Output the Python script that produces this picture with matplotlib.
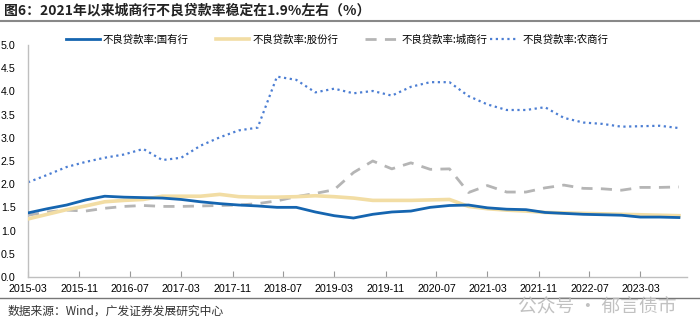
import matplotlib
matplotlib.use("Agg")
import matplotlib.pyplot as plt
import pandas as pd

plt.rcParams['font.family'] = ['Liberation Sans', 'Noto Sans CJK SC', 'DejaVu Sans']
cjk = ['Noto Sans CJK SC', 'DejaVu Sans']

# quarterly NPL ratios (%), 2015Q1 - 2023Q3
quarters = pd.date_range('2015-03-01', '2023-09-01', freq='3MS')
state_owned = [1.38, 1.47, 1.55, 1.66, 1.74, 1.72, 1.71, 1.70, 1.67, 1.62, 1.58, 1.55,
               1.53, 1.50, 1.50, 1.40, 1.32, 1.27, 1.35, 1.40, 1.42, 1.50, 1.54, 1.55,
               1.49, 1.46, 1.45, 1.39, 1.37, 1.35, 1.34, 1.33, 1.29, 1.29, 1.28]
joint_stock = [1.25, 1.35, 1.45, 1.53, 1.62, 1.65, 1.67, 1.74, 1.74, 1.74, 1.78, 1.73,
               1.72, 1.72, 1.73, 1.75, 1.73, 1.70, 1.65, 1.65, 1.65, 1.66, 1.67, 1.52,
               1.47, 1.44, 1.42, 1.39, 1.38, 1.37, 1.36, 1.35, 1.34, 1.33, 1.32]
city = [1.33, 1.40, 1.44, 1.42, 1.48, 1.52, 1.54, 1.52, 1.52, 1.53, 1.54, 1.55,
        1.58, 1.64, 1.73, 1.80, 1.88, 2.25, 2.50, 2.33, 2.46, 2.32, 2.33, 1.82,
        1.97, 1.83, 1.83, 1.92, 1.98, 1.91, 1.90, 1.87, 1.93, 1.93, 1.94]
rural = [2.04, 2.20, 2.37, 2.48, 2.57, 2.64, 2.76, 2.52, 2.57, 2.83, 3.01, 3.16,
         3.22, 4.32, 4.25, 3.98, 4.06, 3.96, 4.01, 3.91, 4.10, 4.20, 4.20, 3.90,
         3.72, 3.60, 3.60, 3.66, 3.43, 3.33, 3.30, 3.24, 3.25, 3.26, 3.21]
labels = ['不良贷款率:国有行', '不良贷款率:股份行', '不良贷款率:城商行', '不良贷款率:农商行']
yticks = [0, 0.5, 1, 1.5, 2, 2.5, 3, 3.5, 4, 4.5, 5]

fig = plt.figure(figsize=(7, 3.34), dpi=100)
ax = fig.add_axes([0.04, 0.171, 0.941, 0.694])

l1, = ax.plot(quarters, state_owned, color='#1565B0', lw=2, label=labels[0], zorder=4)
l2, = ax.plot(quarters, joint_stock, color='#F2DDA4', lw=2.6, label=labels[1], zorder=3)
l3, = ax.plot(quarters, city, color='#B5B5B5', lw=2, ls=(0, (4, 3)), label=labels[2], zorder=2)
l4, = ax.plot(quarters, rural, color='#4C7ED3', lw=1.6, ls=(0, (1, 1.6)), label=labels[3], zorder=2)

ax.set_ylim(0, 5)
ax.set_yticks(yticks)
ax.set_yticklabels([f'{v:.1f}' for v in yticks])
ax.set_xlim(pd.Timestamp('2015-03-01'), pd.Timestamp('2023-10-08'))
xt = pd.date_range('2015-03-01', '2023-03-01', freq='8MS')
ax.set_xticks(xt)
ax.set_xticklabels([d.strftime('%Y-%m') for d in xt])
ax.tick_params(axis='x', direction='in', length=4, color='#999999', labelsize=7.7, pad=5)
ax.tick_params(axis='y', length=0, labelsize=7.7, pad=9)
for s in ['top', 'right']:
    ax.spines[s].set_visible(False)
for s in ['left', 'bottom']:
    ax.spines[s].set_color('#BFBFBF')
    ax.spines[s].set_linewidth(1)

# legend: first three entries, then the rural one squeezed in closer like the source
leg1 = ax.legend(handles=[l1, l2, l3], loc='upper left', bbox_to_anchor=(0.044, 1.085), ncol=3,
                 frameon=False, handlelength=3.2, handletextpad=0.3, columnspacing=2.6,
                 prop={'family': cjk, 'size': 7.5})
ax.add_artist(leg1)
ax.legend(handles=[l4], loc='upper left', bbox_to_anchor=(0.687, 1.085), frameon=False,
          handlelength=2.7, handletextpad=0.4, prop={'family': cjk, 'size': 7.5})

fig.text(0.006, 0.968, '图6：2021年以来城商行不良贷款率稳定在1.9%左右（%）', family=cjk,
         fontsize=10, fontweight='bold', color='#222222', va='center')
fig.add_artist(plt.Line2D([0, 1], [0.937, 0.937], color='#888888', lw=1.5))
fig.add_artist(plt.Line2D([0, 1], [0.107, 0.107], color='#777777', lw=1))
fig.text(0.011, 0.068, '数据来源：Wind，广发证券发展研究中心', family=cjk,
         fontsize=8.5, color='#333333', va='center')
fig.text(0.74, 0.08, '公众号 · 郁言债市', family=cjk, fontsize=13.5,
         color='#BBBBBB', va='center', alpha=0.9)

fig.savefig('out.png', dpi=100)
